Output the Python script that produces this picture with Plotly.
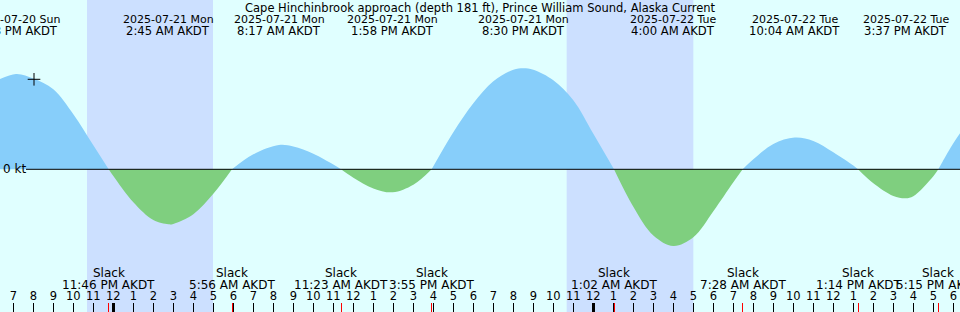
import plotly.graph_objects as go
from datetime import datetime, timedelta

TITLE = "Cape Hinchinbrook approach (depth 181 ft), Prince William Sound, Alaska Current"
X_START = "2025-07-20 18:20"
X_END = "2025-07-22 18:20"

# current speed (kt), positive = flood, negative = ebb
curve_times = [
    "2025-07-20 18:00", "2025-07-20 19:08", "2025-07-20 20:00", "2025-07-20 21:00",
    "2025-07-20 22:00", "2025-07-20 23:00", "2025-07-20 23:46",
    "2025-07-21 00:00", "2025-07-21 01:00", "2025-07-21 02:00", "2025-07-21 02:45",
    "2025-07-21 03:00", "2025-07-21 04:00", "2025-07-21 05:00", "2025-07-21 05:56",
    "2025-07-21 07:00", "2025-07-21 08:17", "2025-07-21 09:00", "2025-07-21 10:00",
    "2025-07-21 11:00", "2025-07-21 11:23",
    "2025-07-21 12:00", "2025-07-21 13:00", "2025-07-21 13:58", "2025-07-21 15:00",
    "2025-07-21 15:55",
    "2025-07-21 17:00", "2025-07-21 18:00", "2025-07-21 19:00", "2025-07-21 20:00",
    "2025-07-21 20:30", "2025-07-21 21:00", "2025-07-21 22:00", "2025-07-21 23:00",
    "2025-07-22 00:00", "2025-07-22 01:02",
    "2025-07-22 02:00", "2025-07-22 03:00", "2025-07-22 04:00", "2025-07-22 05:00",
    "2025-07-22 06:00", "2025-07-22 07:00", "2025-07-22 07:28",
    "2025-07-22 08:00", "2025-07-22 09:00", "2025-07-22 10:04", "2025-07-22 11:00",
    "2025-07-22 12:00", "2025-07-22 13:00", "2025-07-22 13:14",
    "2025-07-22 14:00", "2025-07-22 15:00", "2025-07-22 15:37", "2025-07-22 16:00",
    "2025-07-22 17:00", "2025-07-22 17:15",
    "2025-07-22 18:00", "2025-07-22 19:00",
]
curve_kt = [
    0.87, 0.953, 0.907, 0.80,
    0.55, 0.24, 0.0,
    -0.068, -0.33, -0.508, -0.55,
    -0.546, -0.449, -0.245, 0.0,
    0.15, 0.243, 0.227, 0.155,
    0.047, 0.0,
    -0.084, -0.191, -0.23, -0.155,
    0.0,
    0.37, 0.66, 0.88, 0.995,
    1.01, 0.995, 0.89, 0.69,
    0.355, 0.0,
    -0.375, -0.662, -0.767, -0.68,
    -0.42, -0.13, 0.0,
    0.10, 0.254, 0.317, 0.284,
    0.17, 0.037, 0.0,
    -0.14, -0.267, -0.29, -0.27,
    -0.069, 0.0,
    0.26, 0.55,
]

extreme_times = ["2025-07-20 19:08", "2025-07-21 02:45", "2025-07-21 08:17", "2025-07-21 13:58",
                 "2025-07-21 20:30", "2025-07-22 04:00", "2025-07-22 10:04", "2025-07-22 15:37"]
slack_times = ["2025-07-20 23:46", "2025-07-21 05:56", "2025-07-21 11:23", "2025-07-21 15:55",
               "2025-07-22 01:02", "2025-07-22 07:28", "2025-07-22 13:14", "2025-07-22 17:15"]
sunset_times = ["2025-07-20 22:41", "2025-07-21 22:40"]
sunrise_times = ["2025-07-21 04:59", "2025-07-22 05:00"]
midnights = ["2025-07-21 00:00", "2025-07-22 00:00"]
now_time = "2025-07-20 20:02"
now_kt = 0.90

BG = "#e0ffff"
NIGHT = "#cce0ff"
FLOOD = "#87cefa"
EBB = "#7fcf7f"
FONT = "DejaVu Sans"
H = 312

Y_RANGE = [-1.427, 1.693]


def parse(s):
    return datetime.strptime(s, "%Y-%m-%d %H:%M")


def fmt_date(d):
    return d.strftime("%Y-%m-%d %a")


def fmt_clock(d):
    h = d.hour % 12 or 12
    return f"{h}:{d.minute:02d} {'AM' if d.hour < 12 else 'PM'} AKDT"


def font(size):
    return dict(family=FONT, size=size, color="black")


fig = go.Figure()

# split the curve into flood / ebb lobes at the slack (zero) points
segs = []
cur_t, cur_v = [], []
for t, v in zip(curve_times, curve_kt):
    cur_t.append(t)
    cur_v.append(v)
    if v == 0 and len(cur_t) > 1:
        segs.append((cur_t, cur_v))
        cur_t, cur_v = [t], [v]
if len(cur_t) > 1:
    segs.append((cur_t, cur_v))

for ts, vs in segs:
    col = FLOOD if sum(vs) > 0 else EBB
    fig.add_trace(go.Scatter(
        x=ts, y=vs, mode="lines", line=dict(width=0, shape="spline", color=col),
        fill="tozeroy", fillcolor=col, hoverinfo="skip", showlegend=False))

# current-time marker
fig.add_trace(go.Scatter(
    x=[now_time], y=[now_kt], mode="markers",
    marker=dict(symbol="cross-thin", size=9, line=dict(width=1, color="black")),
    hoverinfo="skip", showlegend=False))

# invisible carriers for the overlay tick axes
fig.add_trace(go.Scatter(x=slack_times, y=[0] * len(slack_times), xaxis="x2", mode="markers",
                         marker=dict(opacity=0), hoverinfo="skip", showlegend=False))
fig.add_trace(go.Scatter(x=midnights, y=[0] * len(midnights), xaxis="x3", mode="markers",
                         marker=dict(opacity=0), hoverinfo="skip", showlegend=False))

# hourly ticks
t0 = parse("2025-07-20 19:00")
hour_vals = [t0 + timedelta(hours=i) for i in range(48)]
hour_text = [str(d.hour % 12 or 12) for d in hour_vals]

shapes = []
for s, r in zip(sunset_times, sunrise_times):
    shapes.append(dict(type="rect", xref="x", yref="paper", x0=s, x1=r, y0=0, y1=1,
                       fillcolor=NIGHT, line=dict(width=0), layer="below"))
shapes.append(dict(type="line", xref="paper", yref="y", x0=26 / 960, x1=1, y0=0, y1=0,
                   line=dict(color="black", width=1)))

ann = []
ann.append(dict(text=TITLE, xref="paper", yref="paper", x=0.501, y=1 - 7.5 / H,
                xanchor="center", yanchor="middle", showarrow=False, font=font(11.5)))
for t in extreme_times:
    d = parse(t)
    ann.append(dict(text=fmt_date(d), xref="x", yref="paper", x=t, y=1 - 19.5 / H,
                    xanchor="center", yanchor="middle", showarrow=False, font=font(11)))
    ann.append(dict(text=fmt_clock(d), xref="x", yref="paper", x=t, y=1 - 31.2 / H,
                    xanchor="center", yanchor="middle", showarrow=False, font=font(11.6)))
for t in slack_times:
    d = parse(t)
    ann.append(dict(text="Slack", xref="x", yref="paper", x=t, y=1 - 273 / H,
                    xanchor="center", yanchor="middle", showarrow=False, font=font(12)))
    ann.append(dict(text=fmt_clock(d), xref="x", yref="paper", x=t, y=1 - 285 / H,
                    xanchor="center", yanchor="middle", showarrow=False, font=font(12)))
ann.append(dict(text="0 kt", xref="paper", yref="y", x=2 / 960, y=0,
                xanchor="left", yanchor="middle", showarrow=False, font=font(12)))
for a in ann:
    a["borderpad"] = 0

common_x = dict(type="date", range=[X_START, X_END], showgrid=False, zeroline=False,
                showline=False, fixedrange=True)
fig.update_layout(
    width=960, height=H,
    margin=dict(l=0, r=0, t=0, b=0),
    paper_bgcolor=BG, plot_bgcolor=BG,
    showlegend=False,
    shapes=shapes, annotations=ann,
    xaxis=dict(**common_x, tickmode="array", tickvals=hour_vals, ticktext=hour_text,
               ticks="inside", ticklen=9, tickwidth=1, tickcolor="black",
               ticklabelposition="inside", tickfont=font(11.5), anchor="y"),
    xaxis2=dict(**common_x, overlaying="x", anchor="y", tickmode="array", tickvals=slack_times,
                ticks="inside", ticklen=9, tickwidth=1, tickcolor="red", showticklabels=False),
    xaxis3=dict(**common_x, overlaying="x", anchor="y", tickmode="array", tickvals=midnights,
                ticks="inside", ticklen=9, tickwidth=3, tickcolor="black", showticklabels=False),
    yaxis=dict(range=Y_RANGE, visible=False, fixedrange=True),
)

fig.write_html("out.html")
